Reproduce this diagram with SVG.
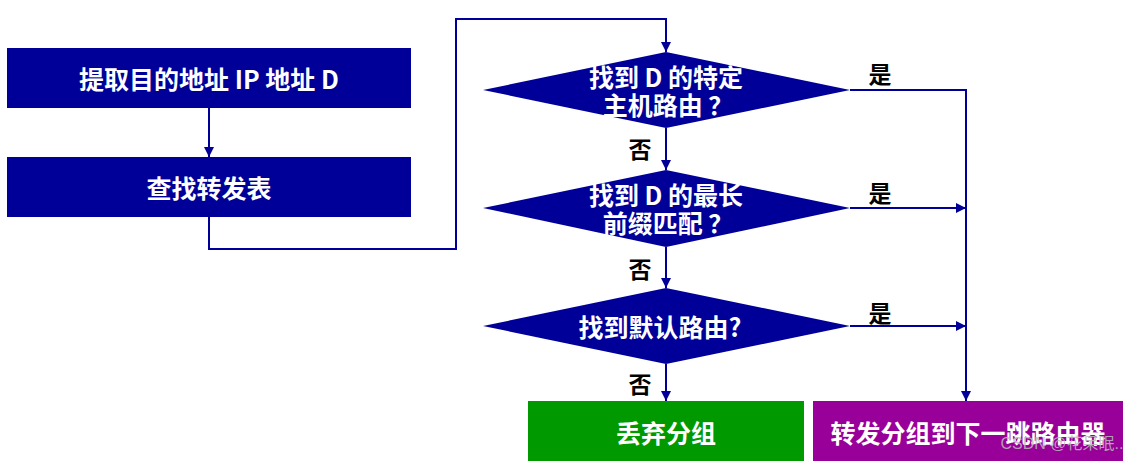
<svg xmlns="http://www.w3.org/2000/svg" width="1137" height="461" viewBox="0 0 1137 461">
<style>
.t{font-family:"Noto Sans CJK SC","Liberation Sans",sans-serif;font-weight:bold;font-size:25px;fill:#ffffff;text-anchor:middle;dominant-baseline:central}
.l{font-family:"Noto Sans CJK SC","Liberation Sans",sans-serif;font-weight:bold;font-size:23px;fill:#000000;text-anchor:middle;dominant-baseline:central}
.c{fill:none;stroke:#000099;stroke-width:2}
.blue{fill:#000099}
</style>
<defs>
<marker id="ah" viewBox="0 0 10 10" refX="10" refY="5" markerWidth="10" markerHeight="10" markerUnits="userSpaceOnUse" orient="auto">
<path d="M0,0 L10,5 L0,10 z" fill="#000099"/>
</marker>
</defs>
<rect width="1137" height="461" fill="#ffffff"/>
<g id="connectors">
<path class="c" d="M209,108 V157" marker-end="url(#ah)"/>
<path class="c" d="M209,217 V249 H456 V19 H666 V52" marker-end="url(#ah)"/>
<path class="c" d="M666,128 V170" marker-end="url(#ah)"/>
<path class="c" d="M666,247 V288" marker-end="url(#ah)"/>
<path class="c" d="M666,364 V401" marker-end="url(#ah)"/>
<path class="c" d="M850,90 H966 V401" marker-end="url(#ah)"/>
<path class="c" d="M850,208 H966" marker-end="url(#ah)"/>
<path class="c" d="M850,326 H966" marker-end="url(#ah)"/>
<text class="l" x="880" y="73">是</text>
<text class="l" x="880" y="192">是</text>
<text class="l" x="880" y="312">是</text>
<text class="l" x="640" y="148">否</text>
<text class="l" x="640" y="268">否</text>
<text class="l" x="640" y="383">否</text>
</g>
<g id="extract">
<rect class="blue" x="7" y="48" width="404" height="60"/>
<text class="t" x="209" y="78">提取目的地址 IP 地址 D</text>
</g>
<g id="lookup">
<rect class="blue" x="7" y="157" width="404" height="60"/>
<text class="t" x="209" y="187">查找转发表</text>
</g>
<g id="host-route">
<polygon class="blue" points="666,52 850,90 666,128 483,90"/>
<text class="t" x="666" y="76">找到 D 的特定</text>
<text class="t" x="668" y="104">主机路由 ？</text>
</g>
<g id="prefix-match">
<polygon class="blue" points="666,170 850,208 666,247 483,208"/>
<text class="t" x="666" y="194">找到 D 的最长</text>
<text class="t" x="668" y="222">前缀匹配 ？</text>
</g>
<g id="default-route">
<polygon class="blue" points="666,288 850,326 666,364 483,326"/>
<text class="t" x="660" y="326">找到默认路由?</text>
</g>
<g id="discard">
<rect x="528" y="401" width="276" height="60" fill="#009900"/>
<text class="t" x="666" y="432">丢弃分组</text>
</g>
<g id="forward">
<rect x="813" y="401" width="310" height="60" fill="#990099"/>
<text class="t" x="968" y="432">转发分组到下一跳路由器</text>
</g>
<text x="1062" y="443" font-family="'Liberation Sans','Noto Sans CJK SC',sans-serif" font-size="16" fill="#bbbbbb" fill-opacity="0.85" text-anchor="middle" dominant-baseline="central">CSDN @花呆眠..</text>
</svg>
